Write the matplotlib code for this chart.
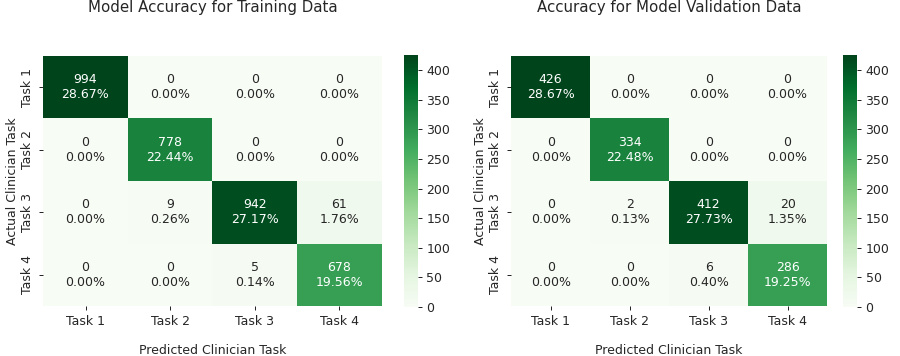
import numpy as np
import matplotlib.pyplot as plt
import seaborn as sns

tasks = ['Task 1', 'Task 2', 'Task 3', 'Task 4']

train_counts = np.array([[994, 0, 0, 0],
                         [0, 778, 0, 0],
                         [0, 9, 942, 61],
                         [0, 0, 5, 678]])
valid_counts = np.array([[426, 0, 0, 0],
                         [0, 334, 0, 0],
                         [0, 2, 412, 20],
                         [0, 0, 6, 286]])


def make_labels(cm):
    pct = cm / cm.sum()
    labels = [f"{v}\n{p:.2%}" for v, p in zip(cm.flatten(), pct.flatten())]
    return np.asarray(labels).reshape(cm.shape)


plt.rcParams['text.color'] = '#262626'
plt.rcParams['xtick.color'] = '#262626'
plt.rcParams['ytick.color'] = '#262626'
plt.rcParams['axes.labelcolor'] = '#262626'

fig = plt.figure(figsize=(10, 356 / 90), dpi=90)

# in the reference both panels share the same colour scale (0 - 426)
panels = [
    ("Model Accuracy for Training Data", train_counts, [0.048, 0.140, 0.376, 0.703], [0.449, 0.138, 0.015, 0.708]),
    ("Accuracy for Model Validation Data", valid_counts, [0.568, 0.140, 0.351, 0.703], [0.937, 0.138, 0.015, 0.708]),
]

for title, cm, pos, cpos in panels:
    ax = fig.add_axes(pos)
    cax = fig.add_axes(cpos)
    sns.heatmap(valid_counts, annot=make_labels(cm), fmt='', cmap='Greens',
                ax=ax, cbar_ax=cax, annot_kws={'fontsize': 10})
    ax.set_xticklabels(tasks, fontsize=10)
    ax.set_yticklabels(tasks, fontsize=10, rotation=90, va='center')
    ax.set_title(title, fontsize=12, pad=35)
    ax.set_xlabel('Predicted Clinician Task', fontsize=10, labelpad=13)
    ax.set_ylabel('Actual Clinician Task', fontsize=10, labelpad=2)
    cax.tick_params(labelsize=10)

plt.savefig("out.png", dpi=90)
